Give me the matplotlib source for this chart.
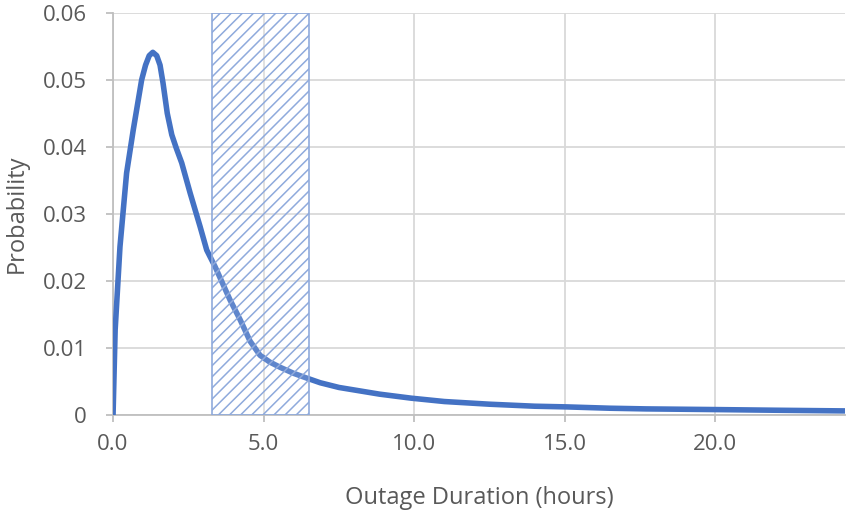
import matplotlib.pyplot as plt
from matplotlib.ticker import FixedLocator

# Outage duration (hours) vs probability
duration_hours = [0, 0.07, 0.23, 0.45, 0.67, 0.95, 1.08, 1.20, 1.32, 1.45, 1.56, 1.66,
                  1.80, 1.95, 2.10, 2.28, 2.56, 2.89, 3.11, 3.39, 3.88, 4.22, 4.55,
                  4.88, 5.20, 5.55, 6.00, 6.43, 6.88, 7.50, 8.85, 9.90, 11.0, 12.5,
                  14.0, 15.05, 16.5, 17.7, 20.0, 22.0, 24.3]
probability = [0, 0.0127, 0.0251, 0.0361, 0.0425, 0.0500, 0.0522, 0.0536, 0.0541,
               0.0536, 0.0522, 0.0495, 0.0450, 0.0418, 0.0398, 0.0376, 0.0331,
               0.0281, 0.0246, 0.0221, 0.0172, 0.0142, 0.0110, 0.0089, 0.0079,
               0.0071, 0.0062, 0.0055, 0.0048, 0.0041, 0.0031, 0.0025, 0.0020,
               0.0016, 0.0013, 0.0012, 0.0010, 0.0009, 0.0008, 0.0007, 0.0006]

# Highlighted duration window
window_start = 3.3
window_end = 6.5

x_ticks = [0, 5, 10, 15, 20]
x_tick_labels = ["0.0", "5.0", "10.0", "15.0", "20.0"]
y_ticks = [0, 0.01, 0.02, 0.03, 0.04, 0.05, 0.06]
y_tick_labels = ["0", "0.01", "0.02", "0.03", "0.04", "0.05", "0.06"]

LINE_COLOR = "#4472C4"
HATCH_COLOR = "#8FAADC"
GRID_COLOR = "#D9D9D9"
TEXT_COLOR = "#595959"

plt.rcParams["font.family"] = ["Open Sans", "DejaVu Sans"]
plt.rcParams["hatch.linewidth"] = 1.1

fig = plt.figure(figsize=(8.5, 5.11), dpi=100)
ax = fig.add_axes([0.133, 0.188, 0.861, 0.787])

ax.plot(duration_hours, probability, color=LINE_COLOR, linewidth=4.0,
        solid_capstyle="round", solid_joinstyle="round", zorder=3)

# Hatched window drawn over the curve
ax.axvspan(window_start, window_end, facecolor=(1, 1, 1, 0.15),
           edgecolor=HATCH_COLOR, hatch="///", linewidth=1.2, zorder=4)

ax.set_xlim(0, 24.3)
ax.set_ylim(0, 0.06)
ax.xaxis.set_major_locator(FixedLocator(x_ticks))
ax.set_xticklabels(x_tick_labels)
ax.yaxis.set_major_locator(FixedLocator(y_ticks))
ax.set_yticklabels(y_tick_labels)

ax.grid(True, color=GRID_COLOR, linewidth=1.3, zorder=0)
ax.set_axisbelow(True)

for side in ["top", "right"]:
    ax.spines[side].set_visible(False)
for side in ["left", "bottom"]:
    ax.spines[side].set_color("#BFBFBF")
    ax.spines[side].set_linewidth(1.3)

ax.tick_params(axis="both", colors="#BFBFBF", length=5, width=1.3,
               labelcolor=TEXT_COLOR, labelsize=16)
ax.tick_params(axis="x", pad=9)
ax.tick_params(axis="y", pad=14)

ax.set_xlabel("Outage Duration (hours)", fontsize=17, color=TEXT_COLOR, labelpad=22)
ax.set_ylabel("Probability", fontsize=17, color=TEXT_COLOR, labelpad=10)

fig.savefig("out.png", dpi=100)
